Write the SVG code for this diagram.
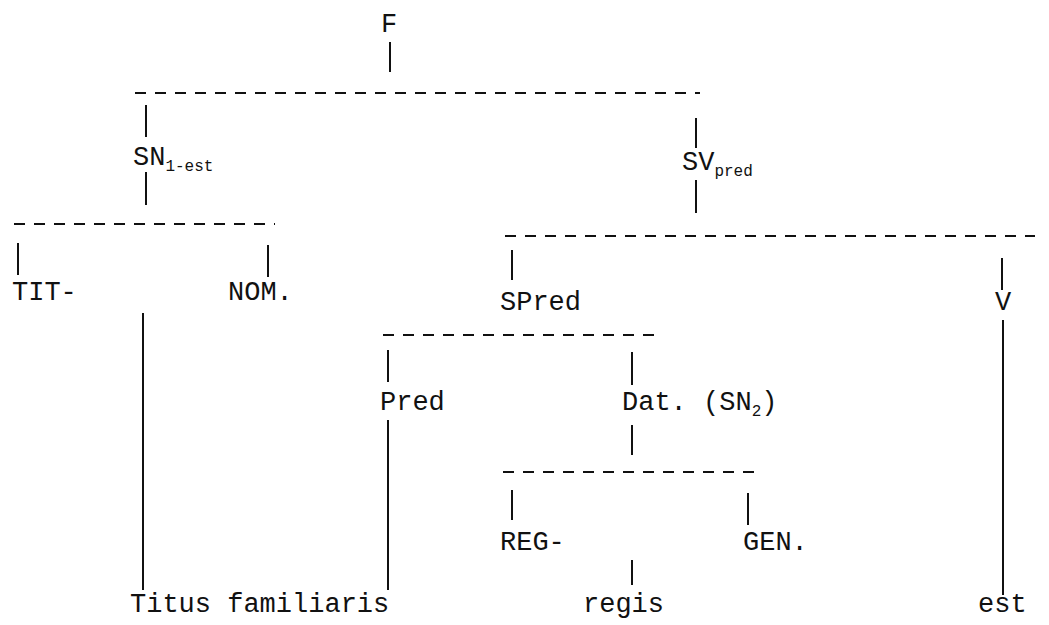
<svg xmlns="http://www.w3.org/2000/svg" width="1049" height="625" viewBox="0 0 1049 625">
  <style>
    text { font-family: "Liberation Mono", "Courier New", monospace; font-size: 27px; fill: #111; }
    .sub { font-size: 16px; }
    .edge { stroke: #111; stroke-width: 2; fill: none; }
    .bar { stroke: #111; stroke-width: 2; stroke-dasharray: 11 9; fill: none; }
  </style>
  <rect width="1049" height="625" fill="#fff"/>

  <!-- branches and dashed spans -->
  <g id="connectors">
    <line class="edge" x1="390" y1="42" x2="390" y2="72"/>
    <line class="bar" x1="135" y1="93" x2="700" y2="93"/>
    <line class="edge" x1="146" y1="105" x2="146" y2="137"/>
    <line class="edge" x1="696" y1="118" x2="696" y2="148"/>
    <line class="edge" x1="146" y1="172" x2="146" y2="205"/>
    <line class="edge" x1="696" y1="180" x2="696" y2="213"/>
    <line class="bar" x1="14" y1="224" x2="275" y2="224"/>
    <line class="edge" x1="18" y1="243" x2="18" y2="275"/>
    <line class="edge" x1="268" y1="245" x2="268" y2="277"/>
    <line class="edge" x1="143" y1="313" x2="143" y2="590"/>
    <line class="bar" x1="505" y1="236" x2="1035" y2="236"/>
    <line class="edge" x1="512" y1="250" x2="512" y2="280"/>
    <line class="edge" x1="1002" y1="258" x2="1002" y2="290"/>
    <line class="edge" x1="1003" y1="320" x2="1003" y2="595"/>
    <line class="bar" x1="383" y1="335" x2="660" y2="335"/>
    <line class="edge" x1="388" y1="350" x2="388" y2="382"/>
    <line class="edge" x1="632" y1="352" x2="632" y2="385"/>
    <line class="edge" x1="388" y1="420" x2="388" y2="590"/>
    <line class="edge" x1="632" y1="425" x2="632" y2="455"/>
    <line class="bar" x1="503" y1="472" x2="760" y2="472"/>
    <line class="edge" x1="512" y1="490" x2="512" y2="520"/>
    <line class="edge" x1="748" y1="493" x2="748" y2="525"/>
    <line class="edge" x1="632" y1="560" x2="632" y2="585"/>
  </g>

  <g id="n-F"><text x="381" y="32">F</text></g>
  <g id="n-SN1"><text x="133" y="165">SN<tspan class="sub" dy="6">1-est</tspan></text></g>
  <g id="n-SV"><text x="682" y="170">SV<tspan class="sub" dy="6">pred</tspan></text></g>
  <g id="n-TIT"><text x="12" y="300">TIT-</text></g>
  <g id="n-NOM"><text x="228" y="300">NOM.</text></g>
  <g id="n-SPred"><text x="500" y="310">SPred</text></g>
  <g id="n-V"><text x="995" y="310">V</text></g>
  <g id="n-Pred"><text x="380" y="410">Pred</text></g>
  <g id="n-Dat"><text x="622" y="410">Dat. (SN<tspan class="sub" dy="6">2</tspan><tspan dy="-6">)</tspan></text></g>
  <g id="n-REG"><text x="500" y="550">REG-</text></g>
  <g id="n-GEN"><text x="743" y="550">GEN.</text></g>
  <g id="n-Titus"><text x="130" y="612">Titus familiaris</text></g>
  <g id="n-regis"><text x="583" y="612">regis</text></g>
  <g id="n-est"><text x="978" y="612">est</text></g>
</svg>
